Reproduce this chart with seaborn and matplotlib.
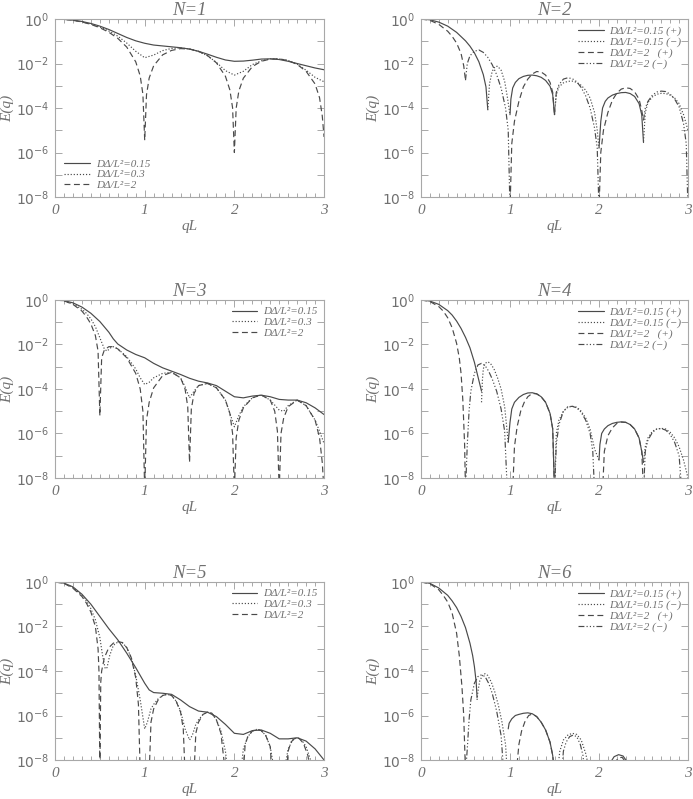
import matplotlib
matplotlib.use("Agg")
import math
import matplotlib.pyplot as plt
import seaborn as sns
import pandas as pd
from matplotlib.lines import Line2D
from matplotlib.ticker import FixedLocator, MultipleLocator, FuncFormatter, NullFormatter

sns.set_style("ticks")
plt.rcParams['font.family'] = ['DejaVu Sans']
plt.rcParams['mathtext.fontset'] = 'dejavusans'

# ---------------- data: (qL, log10 E); None = gap ----------------
n1_015 = [(0,0),(0.1,-0.013),(0.2,-0.05),(0.3,-0.11),(0.4,-0.2),(0.5,-0.32),(0.6,-0.47),(0.7,-0.65),
          (0.8,-0.83),(0.9,-0.98),(1.0,-1.09),(1.1,-1.17),(1.2,-1.21),(1.3,-1.25),(1.4,-1.29),(1.5,-1.35),
          (1.6,-1.45),(1.7,-1.58),(1.8,-1.72),(1.9,-1.84),(2.0,-1.90),(2.1,-1.89),(2.2,-1.85),(2.3,-1.80),
          (2.4,-1.79),(2.5,-1.82),(2.6,-1.90),(2.7,-2.0),(2.8,-2.1),(2.9,-2.2),(3.0,-2.28)]
n1_03 = [(0,0),(0.1,-0.014),(0.2,-0.055),(0.3,-0.125),(0.4,-0.225),(0.5,-0.36),(0.6,-0.54),(0.7,-0.77),
         (0.8,-1.08),(0.9,-1.45),(1.0,-1.74),(1.1,-1.62),(1.2,-1.42),(1.3,-1.32),(1.4,-1.30),(1.5,-1.35),
         (1.6,-1.46),(1.7,-1.65),(1.8,-1.95),(1.9,-2.32),(2.0,-2.52),(2.1,-2.35),(2.2,-2.05),(2.3,-1.88),
         (2.4,-1.79),(2.5,-1.79),(2.6,-1.86),(2.7,-2.03),(2.8,-2.30),(2.9,-2.62),(3.0,-2.82)]
n1_2 = [(0,0),(0.1,-0.014),(0.2,-0.058),(0.3,-0.133),(0.4,-0.242),(0.5,-0.392),(0.6,-0.594),(0.7,-0.869),
        (0.8,-1.262),(0.9,-1.923),(0.95,-2.56),(0.98,-3.38),(1.0,-5.45),(1.02,-3.41),(1.05,-2.65),(1.1,-2.10),
        (1.2,-1.61),(1.3,-1.41),(1.4,-1.33),(1.5,-1.35),(1.6,-1.45),(1.7,-1.64),(1.8,-1.97),(1.9,-2.57),
        (1.95,-3.19),(1.98,-3.99),(2.0,-6.0),(2.02,-4.01),(2.05,-3.23),(2.1,-2.66),(2.2,-2.14),(2.3,-1.90),
        (2.4,-1.80),(2.5,-1.79),(2.6,-1.87),(2.7,-2.04),(2.8,-2.35),(2.9,-2.92),(2.95,-3.54),(2.98,-4.35),(3.0,-5.3)]

n2_015p = [(0,0),(0.1,-0.035),(0.2,-0.14),(0.3,-0.32),(0.4,-0.6),(0.5,-0.98),(0.55,-1.22),(0.6,-1.52),
           (0.65,-1.92),(0.7,-2.5),(0.73,-3.05),(0.75,-4.05), None,
           (1.0,-4.3),(1.01,-3.6),(1.03,-3.1),(1.06,-2.85),(1.1,-2.68),(1.15,-2.58),(1.2,-2.53),(1.25,-2.52),
           (1.3,-2.55),(1.35,-2.62),(1.4,-2.76),(1.45,-3.02),(1.48,-3.4),(1.5,-4.3), None,
           (2.0,-5.8),(2.02,-4.6),(2.04,-4.0),(2.07,-3.7),(2.1,-3.55),(2.15,-3.42),(2.2,-3.35),(2.25,-3.31),
           (2.3,-3.30),(2.35,-3.35),(2.4,-3.48),(2.45,-3.8),(2.48,-4.3),(2.5,-5.55)]
n2_015m = [(0.75,-4.1),(0.77,-2.9),(0.8,-2.35),(0.83,-2.15),(0.86,-2.12),(0.9,-2.3),(0.94,-2.8),(0.97,-3.5),
           (1.0,-4.3), None,
           (1.5,-4.3),(1.52,-3.4),(1.55,-3.05),(1.6,-2.87),(1.65,-2.8),(1.7,-2.79),(1.75,-2.85),(1.8,-2.98),
           (1.85,-3.2),(1.9,-3.55),(1.95,-4.2),(1.98,-5.0),(2.0,-5.8), None,
           (2.5,-5.5),(2.52,-4.2),(2.55,-3.75),(2.6,-3.5),(2.65,-3.38),(2.7,-3.34),(2.75,-3.35),(2.8,-3.42),
           (2.85,-3.55),(2.9,-3.8),(2.95,-4.3),(3.0,-5.0)]
n2_2p = [(0,0),(0.1,-0.06),(0.2,-0.24),(0.3,-0.55),(0.35,-0.78),(0.4,-1.08),(0.45,-1.55),(0.48,-2.1),
         (0.5,-2.75), None,
         (1.0,-8.6),(1.02,-5.6),(1.05,-4.6),(1.1,-3.7),(1.15,-3.05),(1.2,-2.7),(1.25,-2.47),(1.3,-2.36),
         (1.35,-2.38),(1.4,-2.52),(1.45,-2.85),(1.48,-3.3),(1.5,-4.3), None,
         (2.0,-8.6),(2.02,-6.0),(2.05,-5.0),(2.1,-4.2),(2.15,-3.65),(2.2,-3.33),(2.25,-3.15),(2.3,-3.09),
         (2.35,-3.12),(2.4,-3.27),(2.45,-3.6),(2.48,-4.1),(2.5,-4.55)]
n2_2m = [(0.5,-2.75),(0.52,-2.0),(0.55,-1.65),(0.6,-1.45),(0.65,-1.39),(0.7,-1.5),(0.75,-1.72),(0.8,-2.05),
         (0.85,-2.5),(0.9,-3.1),(0.95,-4.0),(0.98,-5.0),(1.0,-8.6), None,
         (1.5,-4.3),(1.52,-3.3),(1.55,-2.95),(1.6,-2.7),(1.65,-2.64),(1.7,-2.68),(1.75,-2.82),(1.8,-3.08),
         (1.85,-3.45),(1.9,-4.0),(1.95,-4.9),(1.98,-5.8),(2.0,-8.6), None,
         (2.5,-4.55),(2.52,-4.0),(2.55,-3.7),(2.6,-3.42),(2.65,-3.28),(2.7,-3.24),(2.75,-3.26),(2.8,-3.38),
         (2.85,-3.6),(2.9,-3.95),(2.95,-4.7),(2.98,-5.6),(3.0,-8.6)]

n3_015 = [(0,0),(0.1,-0.03),(0.2,-0.13),(0.3,-0.32),(0.4,-0.6),(0.5,-0.97),(0.6,-1.45),(0.65,-1.75),
          (0.7,-1.98),(0.8,-2.25),(0.9,-2.45),(1.0,-2.6),(1.1,-2.85),(1.2,-3.05),(1.3,-3.2),(1.4,-3.35),
          (1.5,-3.52),(1.6,-3.65),(1.7,-3.73),(1.8,-3.85),(1.9,-4.1),(2.0,-4.35),(2.1,-4.4),(2.2,-4.32),
          (2.3,-4.28),(2.4,-4.35),(2.5,-4.47),(2.6,-4.5),(2.7,-4.5),(2.8,-4.62),(2.9,-4.85),(3.0,-5.15)]
n3_03 = [(0,0),(0.1,-0.035),(0.2,-0.17),(0.3,-0.42),(0.35,-0.6),(0.4,-0.85),(0.45,-1.2),(0.5,-1.7),
         (0.55,-2.2),(0.58,-2.3),(0.62,-2.15),(0.65,-2.1),(0.7,-2.2),(0.8,-2.55),(0.9,-3.1),(0.95,-3.5),
         (1.0,-3.8),(1.05,-3.7),(1.1,-3.5),(1.2,-3.3),(1.3,-3.25),(1.4,-3.5),(1.45,-3.9),(1.5,-4.4),
         (1.55,-4.1),(1.6,-3.85),(1.7,-3.75),(1.8,-3.95),(1.9,-4.5),(1.95,-5.1),(2.0,-5.7),(2.05,-5.2),
         (2.1,-4.8),(2.2,-4.4),(2.3,-4.27),(2.4,-4.5),(2.5,-4.95),(2.55,-5.0),(2.6,-4.75),(2.7,-4.5),
         (2.8,-4.75),(2.9,-5.4),(2.95,-5.9),(3.0,-6.45)]
n3_2 = [(0,0),(0.1,-0.04),(0.2,-0.2),(0.3,-0.5),(0.35,-0.75),(0.4,-1.08),(0.45,-1.6),(0.48,-2.3),
        (0.5,-5.2),(0.52,-2.6),(0.55,-2.25),(0.6,-2.1),(0.65,-2.1),(0.7,-2.2),(0.8,-2.6),(0.9,-3.3),
        (0.95,-4.0),(0.98,-5.0),(1.0,-8.6),(1.02,-5.4),(1.05,-4.6),(1.1,-3.95),(1.2,-3.4),(1.3,-3.25),
        (1.4,-3.5),(1.45,-4.0),(1.48,-4.8),(1.5,-7.3),(1.52,-4.9),(1.55,-4.2),(1.6,-3.85),(1.7,-3.75),
        (1.8,-3.95),(1.9,-4.5),(1.95,-5.1),(1.98,-6.0),(2.0,-8.6),(2.02,-6.2),(2.05,-5.4),(2.1,-4.85),
        (2.2,-4.4),(2.3,-4.27),(2.4,-4.5),(2.45,-5.0),(2.48,-5.9),(2.5,-8.6),(2.52,-6.0),(2.55,-5.3),
        (2.6,-4.8),(2.7,-4.5),(2.8,-4.75),(2.9,-5.4),(2.95,-6.2),(2.98,-7.3),(3.0,-8.6)]

n4_015p = [(0,0),(0.1,-0.05),(0.2,-0.2),(0.3,-0.48),(0.35,-0.68),(0.4,-0.95),(0.45,-1.28),(0.5,-1.68),
           (0.55,-2.15),(0.6,-2.8),(0.64,-3.45),(0.68,-4.1), None,
           (0.98,-6.4),(1.0,-5.5),(1.02,-4.9),(1.05,-4.6),(1.1,-4.38),(1.15,-4.25),(1.2,-4.18),(1.25,-4.17),
           (1.3,-4.22),(1.35,-4.35),(1.4,-4.6),(1.45,-5.1),(1.48,-5.8),(1.5,-8.6), None,
           (2.0,-7.2),(2.01,-6.5),(2.03,-6.0),(2.06,-5.8),(2.1,-5.65),(2.15,-5.55),(2.2,-5.5),(2.25,-5.48),
           (2.3,-5.5),(2.35,-5.6),(2.4,-5.8),(2.45,-6.2),(2.48,-6.8),(2.5,-7.3)]
n4_015m = [(0.68,-4.6),(0.69,-3.6),(0.7,-3.1),(0.72,-2.85),(0.75,-2.78),(0.78,-2.85),(0.82,-3.1),(0.86,-3.5),
           (0.9,-4.0),(0.94,-4.8),(0.97,-6.0),(0.98,-6.4), None,
           (1.5,-8.6),(1.52,-6.0),(1.55,-5.4),(1.6,-5.0),(1.65,-4.82),(1.7,-4.78),(1.75,-4.82),(1.8,-5.0),
           (1.85,-5.3),(1.9,-5.8),(1.95,-6.7),(2.0,-7.2), None,
           (2.5,-7.3),(2.52,-6.6),(2.55,-6.2),(2.6,-5.9),(2.65,-5.8),(2.7,-5.77),(2.75,-5.8),(2.8,-5.95),
           (2.85,-6.2),(2.9,-6.6),(2.95,-7.2),(3.0,-8.0)]
n4_2p = [(0,0),(0.1,-0.07),(0.2,-0.3),(0.25,-0.5),(0.3,-0.8),(0.35,-1.25),(0.4,-1.95),(0.43,-2.6),
         (0.45,-3.3),(0.47,-4.5),(0.49,-6.5),(0.5,-8.6), None,
         (1.03,-8.6),(1.05,-6.6),(1.08,-5.7),(1.12,-5.0),(1.16,-4.6),(1.2,-4.35),(1.25,-4.2),(1.3,-4.22),
         (1.35,-4.35),(1.4,-4.6),(1.45,-5.1),(1.48,-5.8),(1.5,-8.6), None,
         (2.04,-8.6),(2.06,-6.8),(2.1,-6.1),(2.15,-5.75),(2.2,-5.55),(2.25,-5.49),(2.3,-5.5),(2.35,-5.6),
         (2.4,-5.8),(2.45,-6.2),(2.48,-6.8),(2.5,-8.6)]
n4_2m = [(0.5,-8.6),(0.52,-6.5),(0.54,-5.0),(0.56,-4.1),(0.6,-3.3),(0.64,-2.92),(0.68,-2.85),(0.72,-2.95),
         (0.76,-3.2),(0.8,-3.55),(0.85,-4.1),(0.9,-4.9),(0.94,-5.9),(0.97,-8.6), None,
         (1.5,-8.6),(1.52,-6.5),(1.55,-5.6),(1.6,-5.0),(1.65,-4.8),(1.7,-4.78),(1.75,-4.85),(1.8,-5.05),
         (1.85,-5.4),(1.9,-6.0),(1.93,-6.8),(1.95,-8.6), None,
         (2.5,-8.6),(2.52,-6.8),(2.55,-6.3),(2.6,-5.95),(2.65,-5.8),(2.7,-5.78),(2.75,-5.85),(2.8,-6.05),
         (2.85,-6.4),(2.9,-7.0),(2.93,-8.6)]

n5_015 = [(0,0),(0.1,-0.05),(0.2,-0.22),(0.3,-0.55),(0.4,-1.0),(0.5,-1.55),(0.6,-2.1),(0.7,-2.6),
          (0.8,-3.2),(0.9,-3.85),(1.0,-4.55),(1.05,-4.85),(1.1,-4.97),(1.2,-5.0),(1.3,-5.05),(1.4,-5.3),
          (1.5,-5.6),(1.6,-5.8),(1.7,-5.85),(1.8,-6.05),(1.9,-6.4),(2.0,-6.8),(2.1,-6.85),(2.2,-6.68),
          (2.3,-6.65),(2.4,-6.8),(2.5,-7.05),(2.6,-7.05),(2.7,-7.0),(2.8,-7.15),(2.9,-7.5),(3.0,-8.0)]
n5_03 = [(0,0),(0.1,-0.05),(0.2,-0.25),(0.3,-0.6),(0.35,-0.85),(0.4,-1.2),(0.45,-1.7),(0.5,-2.5),
         (0.53,-3.3),(0.56,-3.9),(0.58,-3.85),(0.61,-3.3),(0.65,-2.85),(0.7,-2.7),(0.75,-2.72),(0.8,-2.95),
         (0.85,-3.4),(0.9,-4.2),(0.95,-5.3),(1.0,-6.6),(1.03,-6.3),(1.07,-5.7),(1.1,-5.5),(1.15,-5.25),
         (1.2,-5.1),(1.25,-5.05),(1.3,-5.1),(1.35,-5.35),(1.4,-5.8),(1.45,-6.6),(1.5,-7.1),(1.53,-6.9),
         (1.57,-6.4),(1.6,-6.2),(1.65,-5.95),(1.7,-5.85),(1.75,-5.9),(1.8,-6.2),(1.85,-6.7),(1.9,-7.6),
         (1.93,-8.6),(2.07,-8.6),(2.1,-7.5),(2.15,-6.95),(2.2,-6.7),(2.25,-6.62),(2.3,-6.68),(2.35,-6.9),
         (2.4,-7.4),(2.45,-8.6),(2.55,-8.6),(2.6,-7.5),(2.65,-7.1),(2.7,-7.0),(2.75,-7.1),(2.8,-7.4),
         (2.85,-8.0),(2.88,-8.6)]
n5_2 = [(0,0),(0.1,-0.06),(0.2,-0.28),(0.3,-0.65),(0.35,-0.95),(0.4,-1.35),(0.45,-2.0),(0.48,-3.0),
        (0.49,-4.0),(0.5,-8.6),(0.51,-4.5),(0.52,-4.0),(0.55,-3.4),(0.6,-2.95),(0.65,-2.75),(0.7,-2.68),
        (0.75,-2.72),(0.8,-2.95),(0.85,-3.4),(0.9,-4.3),(0.93,-5.5),(0.95,-8.6),(1.05,-8.6),(1.07,-6.3),
        (1.1,-5.7),(1.15,-5.3),(1.2,-5.1),(1.25,-5.05),(1.3,-5.1),(1.35,-5.35),(1.4,-5.85),(1.43,-6.6),
        (1.45,-8.6),(1.55,-8.6),(1.57,-6.8),(1.6,-6.3),(1.65,-5.95),(1.7,-5.85),(1.75,-5.9),(1.8,-6.2),
        (1.85,-6.8),(1.9,-8.6),(2.1,-8.6),(2.12,-7.3),(2.15,-6.95),(2.2,-6.7),(2.25,-6.62),(2.3,-6.68),
        (2.35,-6.9),(2.4,-7.4),(2.42,-8.6),(2.58,-8.6),(2.6,-7.6),(2.63,-7.2),(2.68,-7.0),(2.72,-7.02),
        (2.77,-7.25),(2.82,-7.8),(2.85,-8.6)]

n6_015p = [(0,0),(0.1,-0.06),(0.2,-0.27),(0.3,-0.6),(0.35,-0.85),(0.4,-1.15),(0.45,-1.55),(0.5,-2.05),
           (0.55,-2.75),(0.58,-3.3),(0.6,-3.8),(0.62,-4.5),(0.63,-5.2), None,
           (0.98,-6.6),(0.99,-6.35),(1.02,-6.15),(1.06,-6.0),(1.1,-5.95),(1.15,-5.9),(1.2,-5.88),(1.25,-5.92),
           (1.3,-6.05),(1.35,-6.3),(1.4,-6.65),(1.45,-7.2),(1.48,-7.8),(1.5,-8.6), None,
           (2.1,-8.6),(2.13,-8.1),(2.17,-7.85),(2.22,-7.76),(2.27,-7.82),(2.32,-8.1),(2.36,-8.6)]
n6_015m = [(0.63,-5.3),(0.64,-4.9),(0.66,-4.45),(0.69,-4.2),(0.72,-4.12),(0.75,-4.2),(0.79,-4.5),(0.83,-4.95),
           (0.87,-5.55),(0.91,-6.3),(0.95,-7.3),(0.97,-8.6), None,
           (1.53,-8.6),(1.56,-7.6),(1.6,-7.1),(1.65,-6.88),(1.7,-6.8),(1.75,-6.85),(1.8,-7.1),(1.85,-7.7),(1.9,-8.6)]
n6_2p = [(0,0),(0.1,-0.08),(0.2,-0.35),(0.25,-0.6),(0.3,-0.9),(0.35,-1.4),(0.4,-2.3),(0.43,-3.3),
         (0.46,-4.7),(0.48,-6.0),(0.5,-8.6), None,
         (1.07,-8.6),(1.1,-7.3),(1.13,-6.7),(1.17,-6.25),(1.21,-6.0),(1.25,-5.93),(1.3,-6.05),(1.35,-6.3),
         (1.4,-6.65),(1.45,-7.2),(1.48,-7.8),(1.5,-8.6), None,
         (2.15,-8.6),(2.18,-8.1),(2.22,-7.9),(2.26,-7.88),(2.3,-8.1),(2.34,-8.6)]
n6_2m = [(0.5,-8.6),(0.52,-7.5),(0.54,-6.2),(0.56,-5.3),(0.6,-4.55),(0.64,-4.25),(0.68,-4.17),(0.72,-4.25),
         (0.76,-4.55),(0.8,-5.0),(0.85,-5.8),(0.9,-6.9),(0.93,-8.6), None,
         (1.58,-8.6),(1.6,-7.6),(1.63,-7.2),(1.67,-6.95),(1.71,-6.88),(1.75,-6.95),(1.79,-7.3),(1.82,-7.8),(1.84,-8.6)]

titles = ["N=1", "N=2", "N=3", "N=4", "N=5", "N=6"]
labels3 = ["DΔ/L²=0.15", "DΔ/L²=0.3", "DΔ/L²=2"]
labels4 = ["DΔ/L²=0.15 (+)", "DΔ/L²=0.15 (−)", "DΔ/L²=2   (+)", "DΔ/L²=2 (−)"]
x_ticks = [0, 1, 2, 3]
y_ticks = [1e-8, 1e-6, 1e-4, 1e-2, 1e0]
y_minor = [1e-7, 1e-5, 1e-3, 1e-1]

# ---------------- style ----------------
LC = "#4a4a4a"
TC = "#707070"
FC = "#a8a8a8"
LS = {"solid": "-", "dot": (0, (1, 1.6)), "dash": (0, (5, 3)),
      "dd": (0, (5, 1.8, 1, 1.8, 1, 1.8, 1, 1.8))}
SERIF = ["Liberation Serif", "DejaVu Serif"]

panels = [
    (titles[0], [(n1_015, "solid"), (n1_03, "dot"), (n1_2, "dash")], labels3, "ll"),
    (titles[1], [(n2_015p, "solid"), (n2_015m, "dot"), (n2_2p, "dash"), (n2_2m, "dd")], labels4, "ur"),
    (titles[2], [(n3_015, "solid"), (n3_03, "dot"), (n3_2, "dash")], labels3, "ur"),
    (titles[3], [(n4_015p, "solid"), (n4_015m, "dot"), (n4_2p, "dash"), (n4_2m, "dd")], labels4, "ur"),
    (titles[4], [(n5_015, "solid"), (n5_03, "dot"), (n5_2, "dash")], labels3, "ur"),
    (titles[5], [(n6_015p, "solid"), (n6_015m, "dot"), (n6_2p, "dash"), (n6_2m, "dd")], labels4, "ur"),
]

rects = [
    [0.0794, 0.7534, 0.3882, 0.2228], [0.6075, 0.7534, 0.3853, 0.2228],
    [0.0794, 0.4018, 0.3882, 0.2228], [0.6075, 0.4018, 0.3853, 0.2228],
    [0.0794, 0.0488, 0.3882, 0.2228], [0.6075, 0.0488, 0.3853, 0.2228],
]


def segments(pts):
    segs, cur = [], []
    for p in pts + [None]:
        if p is None:
            if cur:
                segs.append(cur)
            cur = []
        else:
            cur.append(p)
    return segs


fig = plt.figure(figsize=(6.93, 7.99), dpi=100)
for rect, (title, curves, labels, loc) in zip(rects, panels):
    ax = fig.add_axes(rect)
    ax.set_yscale("log")
    for pts, sty in curves:
        for seg in segments(pts):
            df = pd.DataFrame(seg, columns=["qL", "logE"])
            df["E"] = 10.0 ** df["logE"]
            sns.lineplot(data=df, x="qL", y="E", ax=ax, color=LC, linestyle=LS[sty],
                         linewidth=0.85, estimator=None, sort=False, legend=False)
    ax.set_xlim(0, 3)
    ax.set_ylim(1e-8, 1)
    ax.xaxis.set_major_locator(FixedLocator(x_ticks))
    ax.xaxis.set_minor_locator(MultipleLocator(0.1))
    ax.yaxis.set_major_locator(FixedLocator(y_ticks))
    ax.yaxis.set_minor_locator(FixedLocator(y_minor))
    ax.yaxis.set_major_formatter(FuncFormatter(lambda v, p: r"$10^{%d}$" % round(math.log10(v))))
    ax.yaxis.set_minor_formatter(NullFormatter())
    ax.xaxis.set_major_formatter(FuncFormatter(lambda v, p: "%d" % v))
    ax.tick_params(which="both", direction="in", top=True, right=True, color=FC, width=0.7)
    ax.tick_params(which="major", length=5, labelsize=10, labelcolor=TC)
    ax.tick_params(which="minor", length=3)
    ax.tick_params(axis="y", which="minor", length=5)
    ax.tick_params(axis="x", pad=5)
    ax.tick_params(axis="y", pad=4)
    for lab in ax.get_xticklabels():
        lab.set_fontstyle("italic")
        lab.set_family(SERIF)
        lab.set_fontsize(11)
    for sp in ax.spines.values():
        sp.set_color(FC)
        sp.set_linewidth(0.8)
    ax.set_title(title, fontsize=13.5, color=TC, fontstyle="italic", family=SERIF, pad=3)
    ax.set_xlabel("qL", fontsize=11, color=TC, fontstyle="italic", family=SERIF, labelpad=2)
    ax.set_ylabel("E(q)", fontsize=11, color=TC, fontstyle="italic", family=SERIF, labelpad=1)

    handles = [Line2D([], [], color=LC, linestyle=LS[s], linewidth=0.85, label=l)
               for (_, s), l in zip(curves, labels)]
    prop = {"style": "italic", "size": 8, "family": SERIF}
    if loc == "ll":
        leg = ax.legend(handles=handles, loc="lower left", bbox_to_anchor=(0.01, 0.0),
                        frameon=False, handlelength=2.3, handletextpad=0.6, labelspacing=0.1,
                        borderaxespad=0.2, prop=prop)
    else:
        leg = ax.legend(handles=handles, loc="upper right", bbox_to_anchor=(1.0, 1.0),
                        frameon=False, handlelength=2.3, handletextpad=0.5, labelspacing=0.1,
                        borderaxespad=0.2, prop=prop)
    for t in leg.get_texts():
        t.set_color(TC)

fig.savefig("out.png", dpi=100, facecolor="white")
